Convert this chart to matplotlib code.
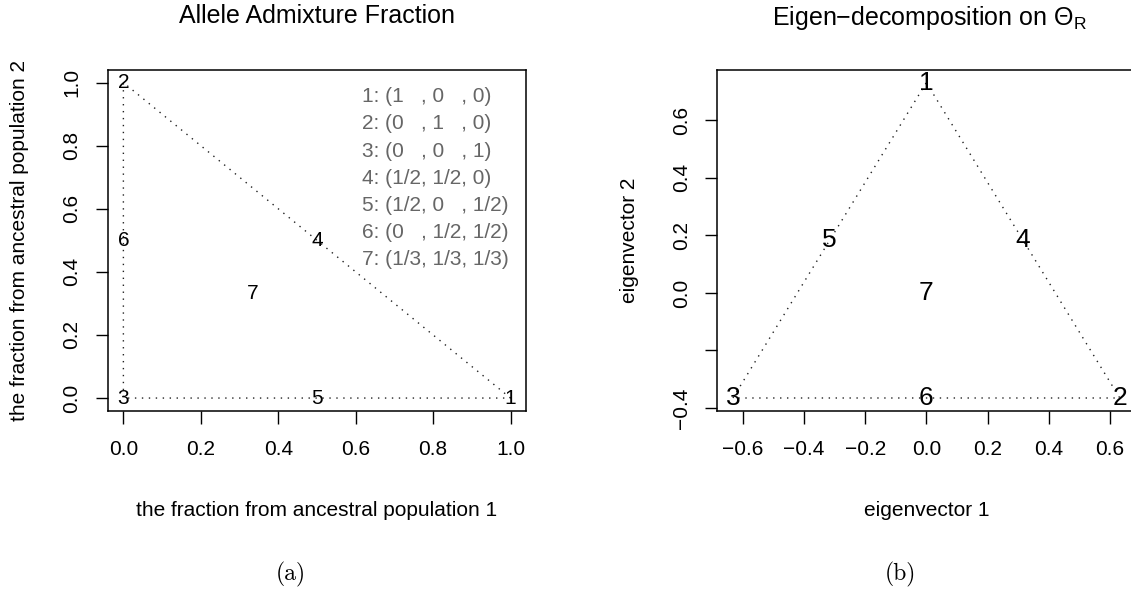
import matplotlib
matplotlib.use("Agg")
import matplotlib.pyplot as plt

plt.rcParams['font.family'] = ['Liberation Sans', 'DejaVu Sans']
plt.rcParams['mathtext.fontset'] = 'custom'
plt.rcParams['mathtext.rm'] = 'Liberation Sans'
plt.rcParams['mathtext.it'] = 'Liberation Sans:italic'

# (a) allele admixture fractions
adm_ids = ['1', '2', '3', '4', '5', '6', '7']
adm_x = [1.0, 0.0, 0.0, 0.5, 0.5, 0.0, 0.333]
adm_y = [0.0, 1.0, 0.0, 0.5, 0.0, 0.5, 0.333]
adm_legend = ['1: (1   , 0   , 0)', '2: (0   , 1   , 0)', '3: (0   , 0   , 1)',
              '4: (1/2, 1/2, 0)', '5: (1/2, 0   , 1/2)', '6: (0   , 1/2, 1/2)',
              '7: (1/3, 1/3, 1/3)']

# (b) eigen-decomposition
eig_x = [0.0, 0.632, -0.632, 0.316, -0.316, 0.0, 0.0]
eig_y = [0.73, -0.365, -0.365, 0.183, 0.183, -0.365, 0.0]

triangle = [0, 1, 2, 0]
fs = 15
dotted = (0, (1, 4))

fig = plt.figure(figsize=(11.31, 5.92), dpi=100)
ax1 = fig.add_axes([0.0954, 0.3063, 0.3697, 0.5755])
ax2 = fig.add_axes([0.6342, 0.3063, 0.3697, 0.5755])

def style(ax):
    for s in ax.spines.values():
        s.set_linewidth(1.1)
    ax.tick_params(direction='out', length=9, width=1, labelsize=fs)
    ax.tick_params(axis='x', pad=12)
    ax.tick_params(axis='y', pad=10)
    for lab in ax.get_yticklabels():
        lab.set_rotation(90)
        lab.set_va('center')

# left panel
ax1.plot([adm_x[i] for i in triangle], [adm_y[i] for i in triangle],
         color='#222222', lw=1, linestyle=dotted)
for t, x, y in zip(adm_ids, adm_x, adm_y):
    ax1.text(x, y, t, ha='center', va='center', fontsize=fs)
ax1.set_xlim(-0.04, 1.04)
ax1.set_ylim(-0.04, 1.04)
ax1.set_xticks([0, 0.2, 0.4, 0.6, 0.8, 1.0])
ax1.set_yticks([0, 0.2, 0.4, 0.6, 0.8, 1.0])
ax1.set_xticklabels(['0.0', '0.2', '0.4', '0.6', '0.8', '1.0'])
ax1.set_yticklabels(['0.0', '0.2', '0.4', '0.6', '0.8', '1.0'])
style(ax1)
for k, s in enumerate(adm_legend):
    ax1.text(0.607, 0.9216 - k * 0.0798, s, transform=ax1.transAxes,
             ha='left', va='center', fontsize=fs, color='#666666')
ax1.set_xlabel('the fraction from ancestral population 1', fontsize=fs, va='center')
ax1.set_ylabel('the fraction from ancestral population 2', fontsize=fs, va='center')
ax1.xaxis.set_label_coords(0.5, -0.294)
ax1.yaxis.set_label_coords(-0.211, 0.5)

# right panel
ax2.plot([eig_x[i] for i in triangle], [eig_y[i] for i in triangle],
         color='#222222', lw=1, linestyle=dotted)
for t, x, y in zip(adm_ids, eig_x, eig_y):
    ax2.text(x, y, t, ha='center', va='center', fontsize=19)
ax2.set_xlim(-0.683, 0.683)
ax2.set_ylim(-0.409, 0.774)
ax2.set_xticks([-0.6, -0.4, -0.2, 0.0, 0.2, 0.4, 0.6])
ax2.set_xticklabels(['\u22120.6', '\u22120.4', '\u22120.2', '0.0', '0.2', '0.4', '0.6'])
ax2.set_yticks([-0.4, -0.2, 0.0, 0.2, 0.4, 0.6])
ax2.set_yticklabels(['\u22120.4', '', '0.0', '0.2', '0.4', '0.6'])
style(ax2)
ax2.set_xlabel('eigenvector 1', fontsize=fs, va='center')
ax2.set_ylabel('eigenvector 2', fontsize=fs, va='center')
ax2.xaxis.set_label_coords(0.5, -0.294)
ax2.yaxis.set_label_coords(-0.211, 0.5)

# titles
fig.text(0.2803, 0.973, 'Allele Admixture Fraction', ha='center', va='center', fontsize=18)
fig.text(0.8220, 0.970, 'Eigen\u2212decomposition on \u0398$_\\mathrm{R}$',
         ha='center', va='center', fontsize=18)

# subfigure captions
fig.text(0.257, 0.030, '(a)', ha='center', va='center', fontsize=17, family='cmr10')
fig.text(0.796, 0.030, '(b)', ha='center', va='center', fontsize=17, family='cmr10')

fig.savefig('out.png', dpi=100)
